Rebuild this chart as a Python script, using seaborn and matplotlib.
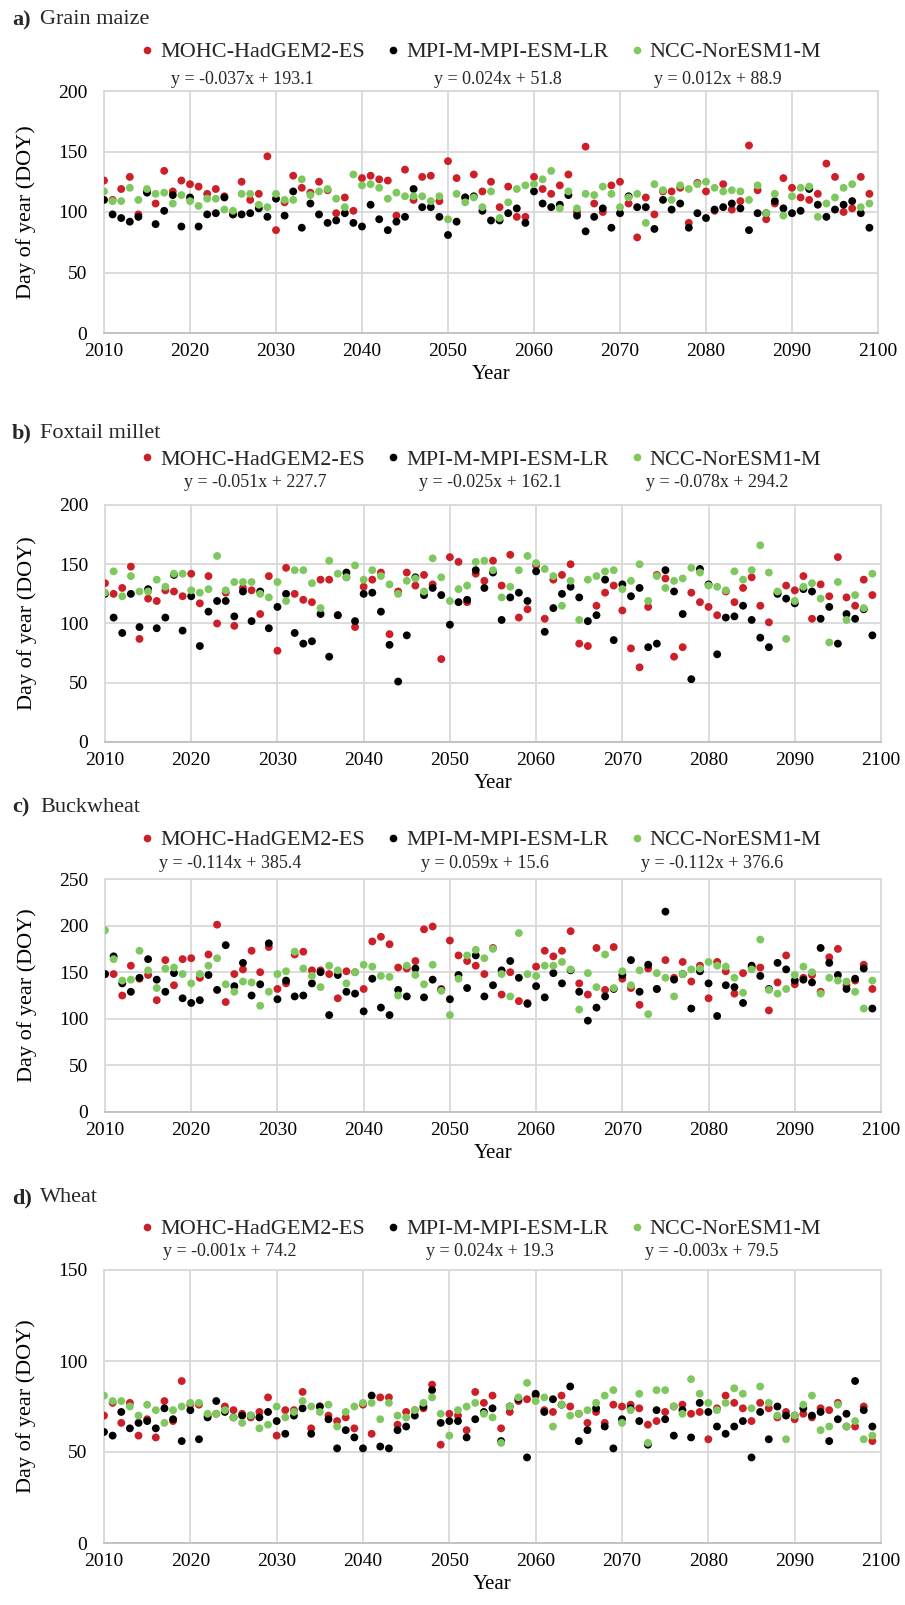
import numpy as np
import pandas as pd
import matplotlib
matplotlib.use("Agg")
import matplotlib.pyplot as plt
from matplotlib.lines import Line2D
import seaborn as sns

years = list(range(2010, 2100))
models = ["MOHC-HadGEM2-ES", "MPI-M-MPI-ESM-LR", "NCC-NorESM1-M"]

maize_mohc = [126,110,119,129,98,117,107,134,117,126, 123,121,115,119,113,98,125,110,115,146,
              85,108,130,120,116,125,118,99,112,101, 128,130,127,126,97,135,110,129,130,109,
              142,128,112,131,117,125,104,121,96,96, 129,119,115,122,131,100,154,107,100,122,
              125,107,79,112,98,117,117,120,91,124, 117,101,123,102,109,155,118,94,107,128,
              120,112,110,115,140,129,100,103,129,115]
maize_mpi = [110,98,95,92,96,116,90,101,114,88, 112,88,98,99,112,98,98,99,103,96,
             111,97,117,87,107,98,91,93,99,91, 88,106,94,85,92,96,119,104,104,96,
             81,92,112,113,101,93,93,99,103,91, 117,107,104,106,114,97,84,96,103,87,
             99,113,104,104,86,110,102,107,87,99, 95,102,104,107,103,85,99,99,109,103,
             99,101,119,106,96,102,106,109,99,87]
maize_ncc = [117,109,109,120,110,119,115,116,107,114, 109,105,111,111,102,101,115,115,106,104,
             115,110,110,127,114,117,119,111,104,131, 122,123,120,111,116,113,113,113,109,113,
             94,115,108,112,104,117,95,108,119,122, 123,127,134,103,117,103,115,114,121,115,
             104,112,115,91,123,118,110,122,119,123, 125,120,117,118,117,110,122,99,115,97,
             113,120,121,96,107,112,120,123,104,107]

millet_mohc = [134,125,130,148,87,121,119,128,127,123, 142,117,140,100,126,98,130,128,108,140,
               77,147,125,120,118,137,137,107,139,97, 131,137,143,91,127,143,132,141,133,70,
               156,152,118,142,136,153,132,158,105,112, 149,104,137,141,150,83,81,115,126,132,
               111,79,63,114,141,138,72,80,126,118, 114,107,127,118,130,139,115,101,126,132,
               128,140,104,133,123,156,122,115,137,124]
millet_mpi = [125,105,92,125,97,129,96,105,141,94, 123,81,110,119,119,106,127,102,127,96,
              114,125,92,83,85,108,72,107,143,102, 125,126,110,82,51,90,139,124,130,124,
              99,118,120,145,130,143,103,122,126,119, 144,93,113,125,131,122,102,107,137,86,
              133,123,130,80,83,145,127,108,53,146, 133,74,105,106,115,103,88,80,125,121,
              117,129,127,104,114,83,108,104,112,90]
millet_ncc = [126,144,123,140,127,127,137,131,142,142, 128,126,129,157,128,135,135,135,125,122,
              135,119,145,145,134,113,153,142,139,149, 137,145,140,133,125,136,138,127,155,139,
              119,129,132,152,153,145,122,131,145,157, 151,146,140,115,136,103,137,140,144,145,
              129,136,150,119,140,130,136,138,147,143, 132,131,128,144,137,145,166,143,127,87,
              119,131,134,121,84,135,103,124,113,142]

buck_mohc = [148,148,125,157,143,147,120,163,136,164, 165,144,169,201,118,148,153,173,150,177,
             132,138,169,172,152,152,148,122,151,150, 132,183,188,180,155,154,162,196,199,132,
             184,168,162,157,148,176,126,150,119,117, 156,173,167,173,194,138,126,176,131,177,
             143,133,115,154,132,163,144,161,140,157, 122,161,151,127,149,155,155,109,139,168,
             137,144,147,129,166,175,136,141,158,132]
buck_mpi = [148,167,138,129,144,164,142,129,149,122, 117,120,147,131,179,135,160,125,137,181,
            121,141,124,125,138,150,104,147,129,127, 108,143,112,104,131,124,154,123,142,131,
            121,147,133,168,124,136,152,162,144,116, 135,123,149,138,152,129,98,112,124,132,
            147,163,129,158,132,215,142,148,111,151, 138,103,136,134,117,157,146,132,160,153,
            141,142,139,176,160,147,132,143,154,111]
buck_ncc = [195,164,141,142,173,152,133,154,155,148, 138,148,157,165,137,129,140,139,114,129,
            148,151,172,154,146,134,157,152,138,150, 158,156,146,145,125,157,147,137,158,130,
            104,143,168,174,165,175,148,124,192,148, 146,157,157,161,153,110,149,134,169,133,
            151,136,152,105,149,144,124,148,153,154, 161,157,156,144,128,153,185,131,127,132,
            147,156,150,127,144,141,140,129,111,141]

wheat_mohc = [70,77,66,77,59,68,58,78,67,89, 76,76,70,71,75,73,71,69,72,80,
              59,73,73,83,63,75,70,67,69,63, 76,60,80,80,65,72,73,74,87,54,
              71,70,62,83,77,81,63,72,78,79, 81,73,72,81,75,71,66,72,66,76,
              75,76,74,65,67,72,75,76,71,72, 57,74,81,77,74,67,77,74,69,72,
              68,71,69,74,73,77,64,64,75,56]
wheat_mpi = [61,59,72,63,66,67,63,74,68,56, 73,57,69,78,72,69,70,70,69,72,
             67,60,70,74,60,75,68,52,62,58, 52,81,53,52,62,64,70,75,84,66,
             67,67,58,68,72,74,56,75,79,47, 82,72,79,76,86,56,62,74,64,52,
             68,74,67,54,73,68,59,73,58,77, 72,64,60,64,67,47,72,57,75,70,
             70,74,70,72,56,68,71,89,73,64]
wheat_ncc = [81,78,78,75,70,76,73,66,73,75, 77,77,71,71,73,69,66,70,63,65,
             75,69,72,78,75,72,76,64,72,75, 77,77,68,77,70,69,73,77,80,71,
             59,73,75,77,71,69,55,75,80,88, 78,80,64,76,70,71,73,77,81,84,
             66,73,82,55,84,84,75,71,90,82, 77,73,77,85,82,74,86,77,70,57,
             70,76,81,62,64,76,64,67,57,59]

panel_letters = ["a)", "b)", "c)", "d)"]
panel_names = ["Grain maize", "Foxtail millet", "Buckwheat", "Wheat"]
equations = [
    ["y = -0.037x + 193.1", "y = 0.024x + 51.8", "y = 0.012x + 88.9"],
    ["y = -0.051x + 227.7", "y = -0.025x + 162.1", "y = -0.078x + 294.2"],
    ["y = -0.114x + 385.4", "y = 0.059x + 15.6", "y = -0.112x + 376.6"],
    ["y = -0.001x + 74.2", "y = 0.024x + 19.3", "y = -0.003x + 79.5"],
]
y_max = [200, 200, 250, 150]
series = [
    (maize_mohc, maize_mpi, maize_ncc),
    (millet_mohc, millet_mpi, millet_ncc),
    (buck_mohc, buck_mpi, buck_ncc),
    (wheat_mohc, wheat_mpi, wheat_ncc),
]

colors = ["#cc1f27", "#000000", "#7fc860"]
palette = dict(zip(models, colors))

sns.set_theme(style="white")
plt.rcParams["font.family"] = ["Liberation Serif", "DejaVu Serif"]

W, H = 905, 1605
fig = plt.figure(figsize=(W / 100, H / 100), dpi=100)

# layout in pixels: left, right, top, bottom
boxes = [(104, 878, 91, 333), (105, 881, 505, 742), (105, 881, 879, 1112), (104, 881, 1270, 1543)]
title_y = [20, 433, 807, 1198]
legend_off = [39, 45, 39, 41]
eq_off = [11, 22, 16, 18]
eq_x = [[242, 498, 718], [255, 490, 717], [230, 485, 712], [230, 490, 712]]

for i in range(4):
    l, r, t, b = boxes[i]
    ax = fig.add_axes([l / W, 1 - b / H, (r - l) / W, (b - t) / H])
    vals = series[i]
    df = pd.DataFrame({
        "Year": np.tile(years, 3),
        "DOY": np.concatenate([np.asarray(v, float) for v in vals]),
        "Model": np.repeat(models, len(years)),
    })
    sns.scatterplot(data=df, x="Year", y="DOY", hue="Model", hue_order=models,
                    palette=palette, s=32, edgecolor="none", linewidth=0,
                    legend=False, ax=ax, zorder=3)
    ax.set_xlim(2010, 2100)
    ax.set_xticks(range(2010, 2101, 10))
    ax.set_ylim(0, y_max[i])
    ax.set_yticks(range(0, y_max[i] + 1, 50))
    ax.grid(True, color="#d9d9d9", linewidth=1.3)
    ax.set_axisbelow(True)
    for sp in ax.spines.values():
        sp.set_color("#d9d9d9")
        sp.set_linewidth(1.3)
    ax.spines["bottom"].set_color("#bfbfbf")
    ax.tick_params(axis="both", length=0, labelsize=14, colors="black")
    ax.tick_params(axis="y", pad=12)
    ax.tick_params(axis="x", pad=7)
    ax.set_xlabel("Year", fontsize=15, labelpad=4, color="black")
    ax.set_ylabel("Day of year (DOY)", fontsize=16, color="black")
    ax.yaxis.set_label_coords(-0.088, 0.5)

    handles = [Line2D([], [], marker="o", ls="", color=c, markersize=4.5) for c in colors]
    h_px = b - t
    ax.legend(handles, models, loc="center",
              bbox_to_anchor=((481 - l) / (r - l), 1 + legend_off[i] / h_px),
              ncol=3, frameon=False, fontsize=16, handlelength=0.6,
              handletextpad=0.3, columnspacing=0.95, borderaxespad=0, borderpad=0)
    for j in range(3):
        ax.text((eq_x[i][j] - l) / (r - l), 1 + eq_off[i] / h_px, equations[i][j],
                transform=ax.transAxes, ha="center", va="center", fontsize=13)

    fig.text(12 / W, 1 - title_y[i] / H, panel_letters[i], fontsize=16,
             fontweight="bold", va="center", ha="left")
    fig.text(40 / W, 1 - title_y[i] / H, panel_names[i], fontsize=16,
             va="center", ha="left")

fig.savefig("out.png", dpi=100, facecolor="white")
